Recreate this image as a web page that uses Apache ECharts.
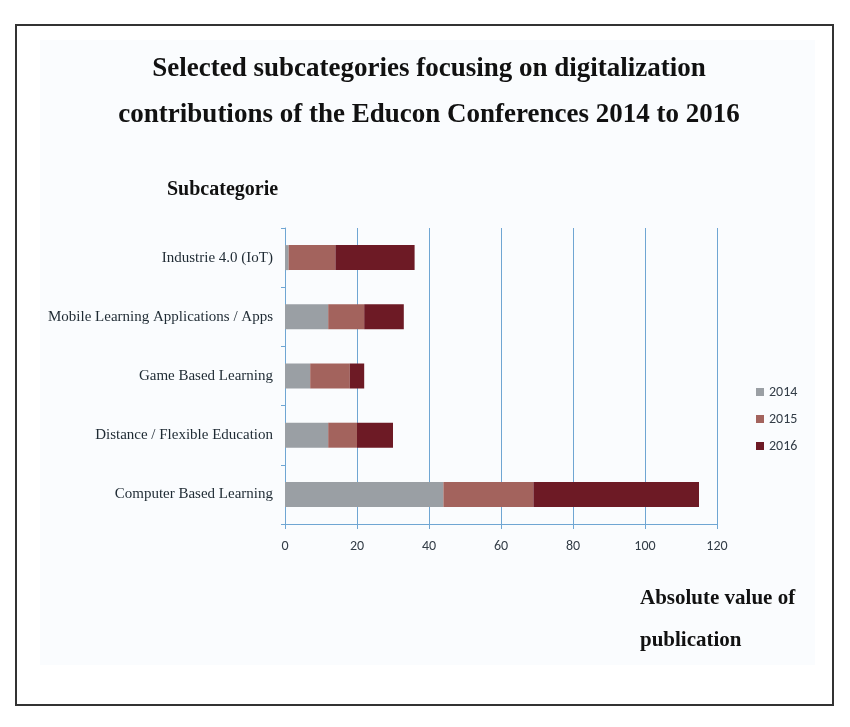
<!DOCTYPE html>
<html>
<head>
<meta charset="utf-8">
<script src="https://cdn.jsdelivr.net/npm/echarts@6/dist/echarts.min.js"></script>
<style>
  html, body { margin: 0; padding: 0; background: #fff; }
  #chart { width: 850px; height: 727px; }
</style>
</head>
<body>
<div id="chart"></div>
<script>
// subcategories, top to bottom
const categories = [
    'Industrie 4.0 (IoT)',
    'Mobile Learning Applications / Apps',
    'Game Based Learning',
    'Distance / Flexible Education',
    'Computer Based Learning'
];
const years = ['2014', '2015', '2016'];
const values2014 = [1, 12, 7, 12, 44];
const values2015 = [13, 10, 11, 8, 25];
const values2016 = [22, 11, 4, 10, 46];
const colors = ['#9a9fa4', '#a3635d', '#6d1a25'];

const chart = echarts.init(document.getElementById('chart'));

const serif = '"Liberation Serif", "Times New Roman", serif';
const sans = 'Carlito, "Liberation Sans", "Open Sans", sans-serif';
const gridColor = '#6fa6d3';

const option = {
    backgroundColor: '#ffffff',
    animation: false,
    graphic: [
        {
            type: 'rect',
            shape: { x: 40, y: 40, width: 775, height: 625 },
            style: { fill: '#fafcfe' },
            z: -10
        },
        {
            type: 'rect',
            shape: { x: 16, y: 25, width: 817, height: 680 },
            style: { fill: 'none', stroke: '#333333', lineWidth: 2 }
        }
    ],
    title: [
        {
            text: 'Selected subcategories focusing on digitalization\ncontributions of the Educon Conferences 2014 to 2016',
            left: 424,
            top: 41,
            textAlign: 'center',
            textStyle: {
                fontFamily: serif,
                fontWeight: 'bold',
                fontSize: 27,
                lineHeight: 46,
                color: '#111'
            }
        },
        {
            text: 'Subcategorie',
            left: 162,
            top: 175,
            textStyle: { fontFamily: serif, fontWeight: 'bold', fontSize: 20, color: '#111' }
        },
        {
            text: 'Absolute value of\npublication',
            left: 635,
            top: 573,
            textStyle: { fontFamily: serif, fontWeight: 'bold', fontSize: 21, lineHeight: 42, color: '#111' }
        }
    ],
    legend: {
        orient: 'vertical',
        left: 751,
        top: 380,
        itemWidth: 8,
        itemHeight: 8,
        itemGap: 13,
        icon: 'rect',
        data: years,
        textStyle: { fontFamily: sans, fontSize: 14, color: '#333d47' }
    },
    grid: {
        left: 285,
        right: 133,
        top: 228,
        bottom: 203,
        containLabel: false
    },
    xAxis: {
        type: 'value',
        min: 0,
        max: 120,
        interval: 20,
        axisLine: { show: true, lineStyle: { color: gridColor, width: 1 } },
        axisTick: { show: true, length: 5, lineStyle: { color: gridColor } },
        splitLine: { show: true, lineStyle: { color: [gridColor], width: 1, opacity: 1 } },
        axisLabel: { fontFamily: sans, fontSize: 14, color: '#333d47', margin: 15 }
    },
    yAxis: {
        type: 'category',
        inverse: true,
        data: categories,
        axisLine: { show: true, lineStyle: { color: gridColor, width: 1 } },
        axisTick: { show: true, length: 4, lineStyle: { color: gridColor } },
        splitLine: { show: false },
        axisLabel: { fontFamily: serif, fontSize: 15, color: '#1e2a33', margin: 12 }
    },
    series: [
        { name: years[0], type: 'bar', stack: 'total', barWidth: 25, data: values2014, itemStyle: { color: colors[0] } },
        { name: years[1], type: 'bar', stack: 'total', barWidth: 25, data: values2015, itemStyle: { color: colors[1] } },
        { name: years[2], type: 'bar', stack: 'total', barWidth: 25, data: values2016, itemStyle: { color: colors[2] } }
    ]
};

chart.setOption(option);
</script>
</body>
</html>
